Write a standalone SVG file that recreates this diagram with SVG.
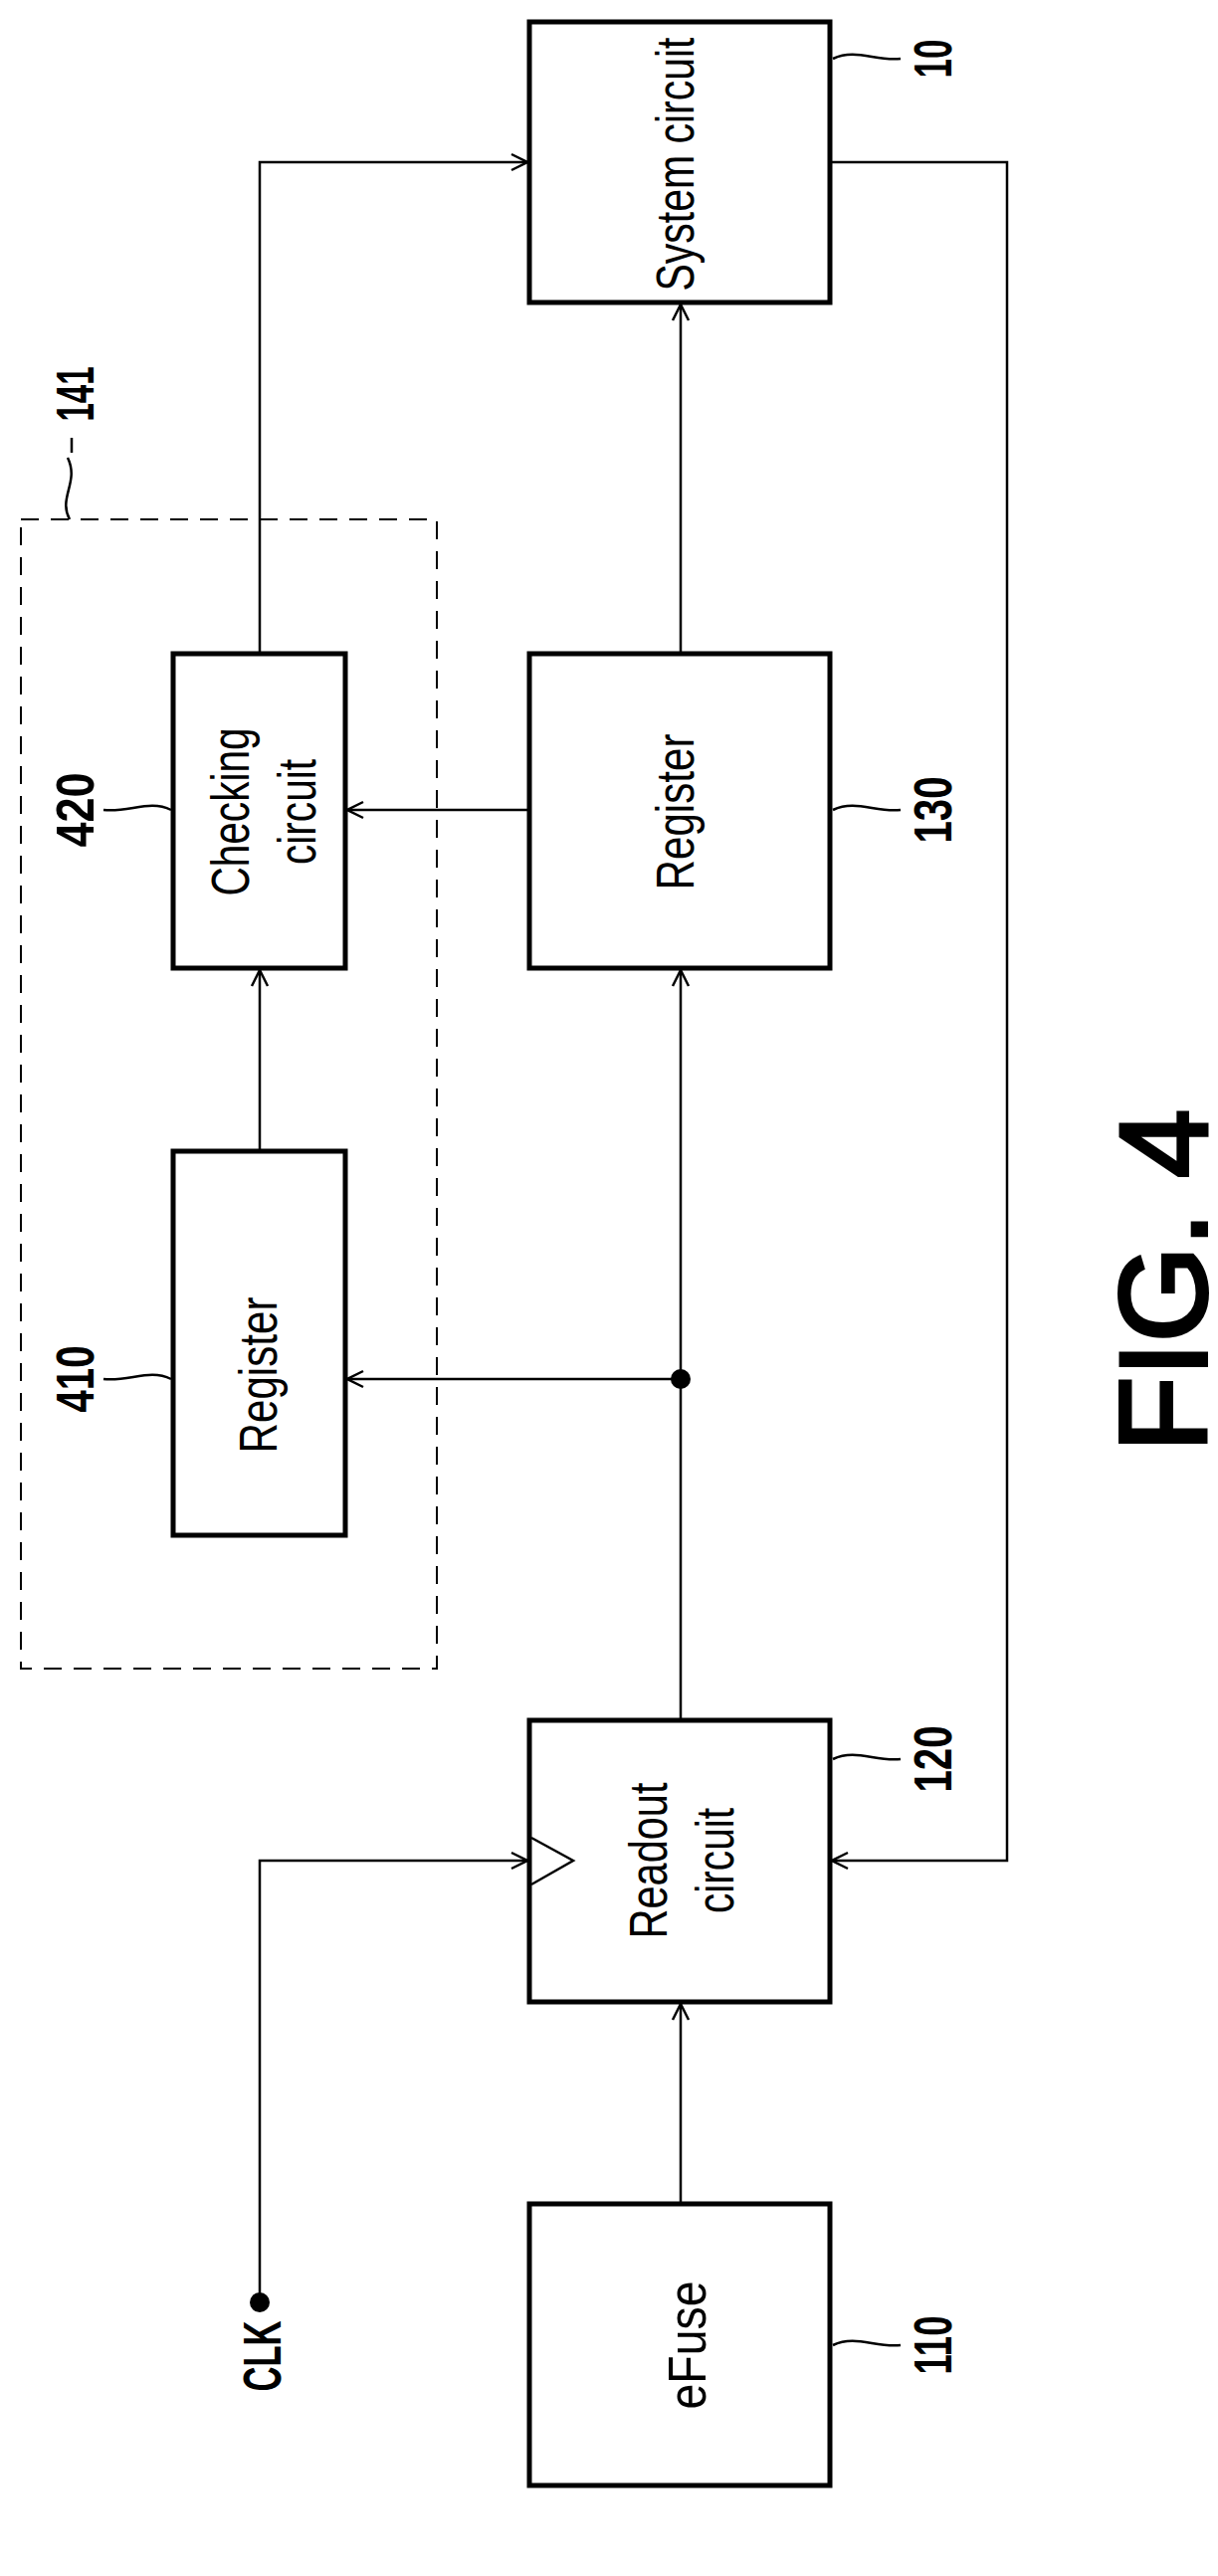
<svg xmlns="http://www.w3.org/2000/svg" width="1224" height="2589" viewBox="0 0 1224 2589">
<style>
.box{fill:none;stroke:#000;stroke-width:5}
.ln{fill:none;stroke:#000;stroke-width:2.5}
.t{font-family:"Liberation Sans",Arial,sans-serif;font-size:54px;text-anchor:middle;dominant-baseline:central}
.b{font-family:"Liberation Sans",Arial,sans-serif;font-size:54px;font-weight:bold;text-anchor:middle;dominant-baseline:central}
.fig{font-family:"Liberation Sans",Arial,sans-serif;font-size:124px;text-anchor:middle;dominant-baseline:central;stroke:#000;stroke-width:4}
</style>
<defs>
<marker id="a" markerWidth="24" markerHeight="24" refX="22" refY="12" orient="auto" markerUnits="userSpaceOnUse">
<polyline points="6,4 22,12 6,20" fill="none" stroke="#000" stroke-width="2.5"/>
</marker>
</defs>
<rect width="1224" height="2589" fill="#fff"/>
<g id="connectors">
<polyline class="ln" points="261,657 261,163 530,163" marker-end="url(#a)"/>
<line class="ln" x1="684" y1="657" x2="684" y2="306" marker-end="url(#a)"/>
<line class="ln" x1="532" y1="814" x2="349" y2="814" marker-end="url(#a)"/>
<line class="ln" x1="261" y1="1157" x2="261" y2="975" marker-end="url(#a)"/>
<line class="ln" x1="684" y1="1729" x2="684" y2="975" marker-end="url(#a)"/>
<line class="ln" x1="684" y1="1386" x2="349" y2="1386" marker-end="url(#a)"/>
<circle cx="684" cy="1386" r="10"/>
<polyline class="ln" points="834,163 1012,163 1012,1870 836,1870" marker-end="url(#a)"/>
<polyline class="ln" points="261,2314 261,1870 530,1870" marker-end="url(#a)"/>
<circle cx="261" cy="2314" r="10"/>
<line class="ln" x1="684" y1="2215" x2="684" y2="2014" marker-end="url(#a)"/>
</g>
<g id="g141">
<rect x="21" y="522" width="418" height="1155" fill="none" stroke="#000" stroke-width="2" stroke-dasharray="18,12"/>
<path class="ln" d="M70,522 C58,500 80,485 68,460 M72,455 L72,440" stroke-width="2"/>
<text class="b" transform="translate(75,396) rotate(-90)" textLength="55" lengthAdjust="spacingAndGlyphs">141</text>
</g>
<g id="n10">
<rect class="box" x="532" y="22" width="302" height="282"/>
<text class="t" transform="translate(678,165) rotate(-90)" textLength="255" lengthAdjust="spacingAndGlyphs">System circuit</text>
<path class="ln" stroke-width="2" d="M837,59 C860,48 880,62 905,59"/>
<text class="b" transform="translate(937,59) rotate(-90)" textLength="39" lengthAdjust="spacingAndGlyphs">10</text>
</g>
<g id="n130">
<rect class="box" x="532" y="657" width="302" height="316"/>
<text class="t" transform="translate(678,816) rotate(-90)" textLength="157" lengthAdjust="spacingAndGlyphs">Register</text>
<path class="ln" stroke-width="2" d="M837,814 C860,803 880,817 905,814"/>
<text class="b" transform="translate(937,814) rotate(-90)" textLength="67" lengthAdjust="spacingAndGlyphs">130</text>
</g>
<g id="n420">
<rect class="box" x="174" y="657" width="173" height="316"/>
<text class="t" transform="translate(231,816) rotate(-90)" textLength="169" lengthAdjust="spacingAndGlyphs">Checking</text>
<text class="t" transform="translate(298,816) rotate(-90)" textLength="106" lengthAdjust="spacingAndGlyphs">circuit</text>
<path class="ln" stroke-width="2" d="M104,814 C130,817 150,803 172,814"/>
<text class="b" transform="translate(75,814) rotate(-90)" textLength="75" lengthAdjust="spacingAndGlyphs">420</text>
</g>
<g id="n410">
<rect class="box" x="174" y="1157" width="173" height="386"/>
<text class="t" transform="translate(259,1382) rotate(-90)" textLength="157" lengthAdjust="spacingAndGlyphs">Register</text>
<path class="ln" stroke-width="2" d="M104,1386 C130,1389 150,1375 172,1386"/>
<text class="b" transform="translate(75,1386) rotate(-90)" textLength="67" lengthAdjust="spacingAndGlyphs">410</text>
</g>
<g id="n120">
<rect class="box" x="532" y="1729" width="302" height="283"/>
<polyline class="ln" points="534,1847 576,1870 534,1894"/>
<text class="t" transform="translate(651,1870) rotate(-90)" textLength="157" lengthAdjust="spacingAndGlyphs">Readout</text>
<text class="t" transform="translate(718,1870) rotate(-90)" textLength="106" lengthAdjust="spacingAndGlyphs">circuit</text>
<path class="ln" stroke-width="2" d="M837,1768 C860,1757 880,1771 905,1768"/>
<text class="b" transform="translate(937,1768) rotate(-90)" textLength="67" lengthAdjust="spacingAndGlyphs">120</text>
</g>
<g id="n110">
<rect class="box" x="532" y="2215" width="302" height="283"/>
<text class="t" transform="translate(690,2357) rotate(-90)" textLength="129" lengthAdjust="spacingAndGlyphs">eFuse</text>
<path class="ln" stroke-width="2" d="M837,2357 C860,2346 880,2360 905,2357"/>
<text class="b" transform="translate(937,2357) rotate(-90)" textLength="59" lengthAdjust="spacingAndGlyphs">110</text>
</g>
<g id="clk">
<text class="b" transform="translate(263,2368) rotate(-90)" textLength="71" lengthAdjust="spacingAndGlyphs">CLK</text>
</g>
<g id="fig">
<text class="fig" transform="translate(1169,1287) rotate(-90)">FIG. 4</text>
</g>
</svg>
